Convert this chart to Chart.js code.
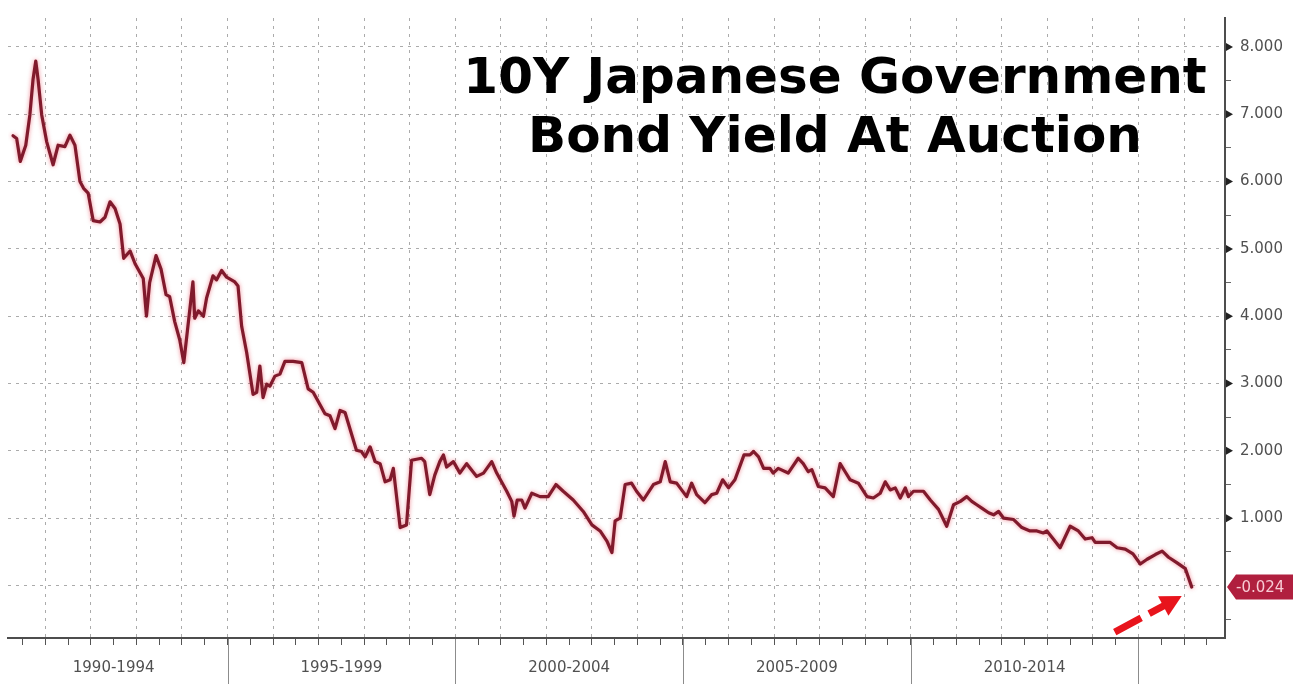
<!DOCTYPE html>
<html>
<head>
<meta charset="utf-8">
<title>10Y Japanese Government Bond Yield At Auction</title>
<script src="https://cdn.jsdelivr.net/npm/chart.js@4.4.1/dist/chart.umd.min.js"></script>
<style>
  html, body { margin: 0; padding: 0; background: #fff; }
  canvas { display: block; }
</style>
</head>
<body>
<canvas id="jgbChart" width="1293" height="684"></canvas>
<script>
// auction dates (decimal years) and yields (%)
const auctionDates = [
  1990.29, 1990.37, 1990.45, 1990.57, 1990.66, 1990.73, 1990.79, 1990.84, 1990.92, 1991.03,
  1991.17, 1991.28, 1991.43, 1991.54, 1991.65, 1991.76, 1991.84, 1991.94, 1992.05, 1992.20,
  1992.31, 1992.42, 1992.53, 1992.64, 1992.72, 1992.86, 1992.97, 1993.15, 1993.22, 1993.29,
  1993.43, 1993.54, 1993.65, 1993.73, 1993.84, 1993.95, 1994.04, 1994.24, 1994.28, 1994.36,
  1994.47, 1994.54, 1994.68, 1994.76, 1994.87, 1994.98, 1995.16, 1995.23, 1995.31, 1995.42,
  1995.56, 1995.64, 1995.71, 1995.78, 1995.86, 1995.93, 1996.04, 1996.15, 1996.26, 1996.44,
  1996.63, 1996.77, 1996.88, 1997.14, 1997.25, 1997.36, 1997.47, 1997.58, 1997.83, 1997.94,
  1998.02, 1998.13, 1998.24, 1998.35, 1998.46, 1998.57, 1998.64, 1998.79, 1998.93, 1999.04,
  1999.26, 1999.33, 1999.44, 1999.55, 1999.66, 1999.74, 1999.81, 1999.96, 2000.10, 2000.25,
  2000.47, 2000.62, 2000.80, 2000.91, 2001.13, 2001.24, 2001.29, 2001.36, 2001.46, 2001.53,
  2001.68, 2001.86, 2002.04, 2002.21, 2002.37, 2002.59, 2002.81, 2003.00, 2003.18, 2003.33,
  2003.44, 2003.51, 2003.62, 2003.73, 2003.87, 2003.98, 2004.13, 2004.35, 2004.50, 2004.61,
  2004.72, 2004.86, 2005.08, 2005.19, 2005.30, 2005.48, 2005.63, 2005.74, 2005.87, 2006.00,
  2006.14, 2006.34, 2006.47, 2006.55, 2006.66, 2006.77, 2006.91, 2006.98, 2007.09, 2007.31,
  2007.53, 2007.64, 2007.75, 2007.83, 2007.97, 2008.12, 2008.30, 2008.45, 2008.56, 2008.67,
  2008.85, 2009.04, 2009.18, 2009.33, 2009.44, 2009.55, 2009.66, 2009.77, 2009.88, 2009.95,
  2010.06, 2010.28, 2010.43, 2010.61, 2010.79, 2010.94, 2011.09, 2011.23, 2011.34, 2011.45,
  2011.56, 2011.71, 2011.82, 2011.93, 2012.04, 2012.26, 2012.44, 2012.62, 2012.77, 2012.91,
  2012.99, 2013.13, 2013.28, 2013.50, 2013.68, 2013.83, 2013.98, 2014.05, 2014.16, 2014.38,
  2014.53, 2014.71, 2014.88, 2015.04, 2015.19, 2015.37, 2015.52, 2015.66, 2015.84, 2016.03,
  2016.17
];
const auctionYields = [
  6.68, 6.64, 6.30, 6.54, 6.99, 7.52, 7.79, 7.52, 6.99, 6.59,
  6.25, 6.54, 6.52, 6.69, 6.54, 6.00, 5.90, 5.83, 5.42, 5.40,
  5.47, 5.70, 5.60, 5.37, 4.86, 4.97, 4.78, 4.56, 4.00, 4.50,
  4.90, 4.70, 4.32, 4.29, 3.92, 3.65, 3.31, 4.51, 3.97, 4.08,
  4.00, 4.27, 4.60, 4.54, 4.68, 4.58, 4.51, 4.45, 3.85, 3.46,
  2.84, 2.87, 3.26, 2.79, 2.99, 2.96, 3.11, 3.14, 3.33, 3.33,
  3.31, 2.92, 2.87, 2.55, 2.52, 2.33, 2.60, 2.57, 2.01, 1.99,
  1.91, 2.06, 1.84, 1.81, 1.54, 1.57, 1.74, 0.86, 0.90, 1.86,
  1.89, 1.84, 1.35, 1.64, 1.84, 1.94, 1.76, 1.84, 1.67, 1.81,
  1.62, 1.67, 1.84, 1.67, 1.40, 1.25, 1.03, 1.27, 1.27, 1.15,
  1.37, 1.32, 1.32, 1.50, 1.40, 1.27, 1.10, 0.90, 0.81, 0.66,
  0.49, 0.96, 1.00, 1.50, 1.52, 1.40, 1.27, 1.50, 1.54, 1.84,
  1.54, 1.52, 1.32, 1.52, 1.35, 1.23, 1.35, 1.37, 1.57, 1.45,
  1.57, 1.94, 1.94, 1.99, 1.91, 1.74, 1.74, 1.67, 1.74, 1.67,
  1.89, 1.81, 1.69, 1.72, 1.47, 1.45, 1.32, 1.81, 1.69, 1.57,
  1.52, 1.32, 1.30, 1.37, 1.54, 1.42, 1.45, 1.30, 1.45, 1.32,
  1.40, 1.40, 1.27, 1.13, 0.88, 1.20, 1.25, 1.32, 1.25, 1.20,
  1.15, 1.08, 1.05, 1.10, 1.00, 0.98, 0.86, 0.81, 0.81, 0.78,
  0.81, 0.69, 0.56, 0.88, 0.81, 0.69, 0.71, 0.64, 0.64, 0.64,
  0.56, 0.54, 0.47, 0.32, 0.39, 0.46, 0.51, 0.42, 0.34, 0.25,
  -0.024
];
const periodStarts = [1990, 1995, 2000, 2005, 2010];
const periodLabels = ['1990-1994', '1995-1999', '2000-2004', '2005-2009', '2010-2014'];
const titleLines = ['10Y Japanese Government', 'Bond Yield At Auction'];

const gridGray = '#ababab';
const isWhole = v => Math.abs(v - Math.round(v)) < 1e-6;

// extra drawing: period dividers, tick arrows, last value badge, red arrow, title
const decorations = {
  id: 'decorations',
  beforeDatasetDraw(chart) {
    chart.ctx.save();
    chart.ctx.shadowColor = 'rgba(225, 40, 60, 0.55)';
    chart.ctx.shadowBlur = 4;
  },
  afterDatasetDraw(chart) {
    chart.ctx.restore();
  },
  afterDraw(chart) {
    const ctx = chart.ctx;
    const xs = chart.scales.x;
    const ys = chart.scales.y;
    const area = chart.chartArea;
    ctx.save();

    // period dividers under the axis
    ctx.strokeStyle = '#8c8c8c';
    ctx.lineWidth = 1;
    periodStarts.forEach(s => {
      const v = s + 5;
      if (v > xs.max) return;
      const px = Math.round(xs.getPixelForValue(v)) + 0.5;
      ctx.beginPath();
      ctx.moveTo(px, area.bottom + 1);
      ctx.lineTo(px, chart.height);
      ctx.stroke();
    });

    // little arrow heads on the major y ticks
    ctx.fillStyle = '#222';
    for (let v = 1; v <= 8; v++) {
      const py = ys.getPixelForValue(v);
      ctx.beginPath();
      ctx.moveTo(area.right + 1, py - 4);
      ctx.lineTo(area.right + 8, py);
      ctx.lineTo(area.right + 1, py + 4);
      ctx.closePath();
      ctx.fill();
    }

    // last value badge
    const lastIdx = auctionYields.length - 1;
    const lastVal = auctionYields[lastIdx];
    const lx = xs.getPixelForValue(auctionDates[lastIdx]);
    const ly = ys.getPixelForValue(lastVal);
    const bx = area.right + 2;
    ctx.fillStyle = '#b01f3e';
    ctx.beginPath();
    ctx.moveTo(bx, ly);
    ctx.lineTo(bx + 9, ly - 12.5);
    ctx.lineTo(chart.width, ly - 12.5);
    ctx.lineTo(chart.width, ly + 12.5);
    ctx.lineTo(bx + 9, ly + 12.5);
    ctx.closePath();
    ctx.fill();
    ctx.fillStyle = '#f8cbd4';
    ctx.font = '15px "DejaVu Sans"';
    ctx.textAlign = 'left';
    ctx.textBaseline = 'middle';
    ctx.fillText(lastVal.toFixed(3), bx + 9, ly + 1);

    // red dashed arrow pointing at the last auction
    const tip = { x: lx - 10, y: ly + 9 };
    const tail = { x: lx - 77, y: ly + 45 };
    const dx = tip.x - tail.x, dy = tip.y - tail.y;
    const len = Math.hypot(dx, dy);
    const ux = dx / len, uy = dy / len;
    const nx = -uy, ny = ux;
    const headLen = 21, headHalf = 11;
    const base = { x: tip.x - ux * headLen, y: tip.y - uy * headLen };
    ctx.strokeStyle = '#e8141c';
    ctx.fillStyle = '#e8141c';
    ctx.lineWidth = 7;
    ctx.setLineDash([30, 9]);
    ctx.beginPath();
    ctx.moveTo(tail.x, tail.y);
    ctx.lineTo(base.x + ux * 2, base.y + uy * 2);
    ctx.stroke();
    ctx.setLineDash([]);
    ctx.beginPath();
    ctx.moveTo(tip.x, tip.y);
    ctx.lineTo(base.x + nx * headHalf, base.y + ny * headHalf);
    ctx.lineTo(base.x - nx * headHalf, base.y - ny * headHalf);
    ctx.closePath();
    ctx.fill();

    // title
    ctx.fillStyle = '#000';
    ctx.font = 'bold 50px "DejaVu Sans"';
    ctx.textAlign = 'center';
    ctx.textBaseline = 'alphabetic';
    ctx.fillText(titleLines[0], 835, 93);
    ctx.fillText(titleLines[1], 835, 152);

    ctx.restore();
  }
};

const points = auctionDates.map((d, i) => ({ x: d, y: auctionYields[i] }));

const ctx = document.getElementById('jgbChart').getContext('2d');
const jgbChart = new Chart(ctx, {
  type: 'line',
  data: {
    datasets: [{
      data: points,
      borderColor: '#801a2c',
      borderWidth: 3.2,
      pointRadius: 0,
      tension: 0,
      fill: false,
      borderJoinStyle: 'round',
      borderCapStyle: 'round'
    }]
  },
  options: {
    responsive: false,
    animation: false,
    layout: { padding: { left: 8, top: 12, right: 0, bottom: 0 } },
    plugins: {
      legend: { display: false },
      tooltip: { enabled: false }
    },
    scales: {
      x: {
        type: 'linear',
        position: 'bottom',
        min: 1990.18,
        max: 2016.9,
        afterFit: s => { s.height = 46; },
        ticks: {
          stepSize: 0.5,
          autoSkip: false,
          maxRotation: 0,
          includeBounds: false,
          padding: 14,
          color: '#505050',
          font: { family: 'DejaVu Sans', size: 15 },
          callback: v => {
            const i = periodStarts.findIndex(s => Math.abs(s + 2.5 - v) < 1e-6);
            return i >= 0 ? periodLabels[i] : '';
          }
        },
        grid: {
          color: c => (c.tick && isWhole(c.tick.value)) ? gridGray : 'rgba(0,0,0,0)',
          tickColor: '#555',
          tickLength: 7
        },
        border: { color: '#4d4d4d', width: 2, dash: [3, 5] }
      },
      y: {
        position: 'right',
        min: -0.78,
        max: 8.43,
        afterFit: s => { s.width = 68; },
        ticks: {
          stepSize: 0.5,
          includeBounds: false,
          padding: 9,
          color: '#505050',
          font: { family: 'DejaVu Sans', size: 15 },
          callback: v => (isWhole(v) && v >= 1) ? v.toFixed(3) : ''
        },
        grid: {
          color: c => (c.tick && isWhole(c.tick.value)) ? gridGray : 'rgba(0,0,0,0)',
          tickColor: c => (c.tick && isWhole(c.tick.value)) ? 'rgba(0,0,0,0)' : '#666',
          tickLength: 6
        },
        border: { color: '#4d4d4d', width: 2, dash: [3, 5] }
      }
    }
  },
  plugins: [decorations]
});
</script>
</body>
</html>
